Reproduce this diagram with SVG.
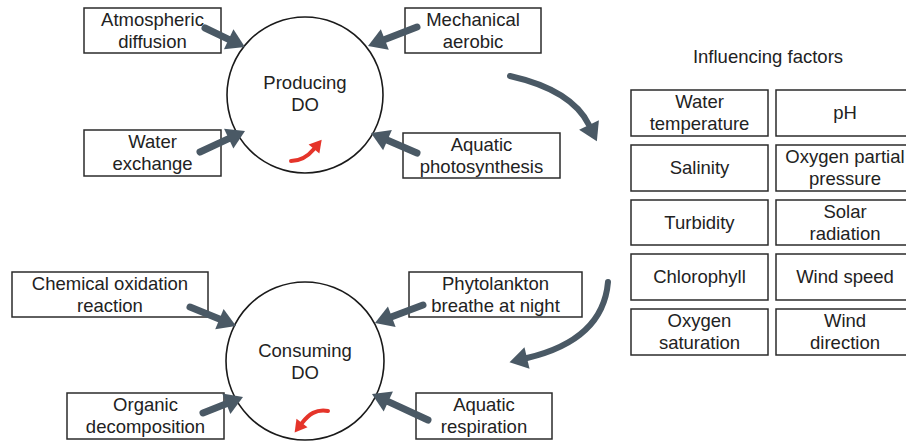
<svg xmlns="http://www.w3.org/2000/svg" width="906" height="442" viewBox="0 0 906 442">
<style>
.box{fill:#fff;stroke:#2b2b2b;stroke-width:1.5}
.circ{fill:#fff;stroke:#1a1a1a;stroke-width:1.6}
text{font-family:"Liberation Sans",Arial,sans-serif;font-size:18.5px;fill:#222;text-anchor:middle}
.arr{fill:none;stroke:#4a5965;stroke-width:7;stroke-linecap:round}
.carr{fill:none;stroke:#4a5965;stroke-width:6;stroke-linecap:round}
.red{fill:none;stroke:#e5342a;stroke-width:4;stroke-linecap:round}
</style>
<defs>
<marker id="ah" markerUnits="userSpaceOnUse" markerWidth="18" markerHeight="22" refX="0" refY="11" orient="auto" overflow="visible">
<path d="M0,0 L18,11 L0,22 Z" fill="#4a5965"/>
</marker>
<marker id="rh" markerUnits="userSpaceOnUse" markerWidth="12" markerHeight="14" refX="0" refY="7" orient="auto" overflow="visible">
<path d="M0,0 L12,7 L0,14 Z" fill="#e5342a"/>
</marker>
</defs>
<rect width="906" height="442" fill="#fff"/>

<g id="producing">
<circle class="circ" cx="305" cy="95" r="78"/>
<text x="305" y="89">Producing</text>
<text x="305" y="111">DO</text>
</g>
<g id="consuming">
<circle class="circ" cx="305" cy="361" r="79"/>
<text x="305" y="357">Consuming</text>
<text x="305" y="379">DO</text>
</g>

<g id="atmospheric"><rect class="box" x="84" y="8" width="137" height="45"/><text x="152.5" y="25.5">Atmospheric</text><text x="152.5" y="47.5">diffusion</text></g>
<g id="water-exchange"><rect class="box" x="84" y="130" width="137" height="46"/><text x="152.5" y="148">Water</text><text x="152.5" y="170">exchange</text></g>
<g id="mechanical"><rect class="box" x="405" y="8" width="136" height="45"/><text x="473" y="25.5">Mechanical</text><text x="473" y="47.5">aerobic</text></g>
<g id="photosynthesis"><rect class="box" x="403" y="133" width="157" height="45"/><text x="481.5" y="150.5">Aquatic</text><text x="481.5" y="172.5">photosynthesis</text></g>
<g id="chemical"><rect class="box" x="12" y="272" width="196" height="45"/><text x="110" y="289.5">Chemical oxidation</text><text x="110" y="311.5">reaction</text></g>
<g id="organic"><rect class="box" x="67" y="393" width="157" height="46"/><text x="145.5" y="411">Organic</text><text x="145.5" y="433">decomposition</text></g>
<g id="phytolankton"><rect class="box" x="409" y="272" width="173" height="45"/><text x="495.5" y="289.5">Phytolankton</text><text x="495.5" y="311.5">breathe at night</text></g>
<g id="respiration"><rect class="box" x="416" y="393" width="136" height="46"/><text x="484" y="411">Aquatic</text><text x="484" y="433">respiration</text></g>

<g id="factors">
<text x="768" y="63">Influencing factors</text>
<g id="f-water-temp"><rect class="box" x="631" y="90" width="137" height="46"/><text x="699.5" y="108">Water</text><text x="699.5" y="130">temperature</text></g>
<g id="f-ph"><rect class="box" x="776" y="90" width="138" height="46"/><text x="845" y="119">pH</text></g>
<g id="f-salinity"><rect class="box" x="631" y="145" width="137" height="46"/><text x="699.5" y="174">Salinity</text></g>
<g id="f-oxygen-partial"><rect class="box" x="776" y="145" width="138" height="46"/><text x="845" y="163">Oxygen partial</text><text x="845" y="185">pressure</text></g>
<g id="f-turbidity"><rect class="box" x="631" y="200" width="137" height="45"/><text x="699.5" y="228.5">Turbidity</text></g>
<g id="f-solar"><rect class="box" x="776" y="200" width="138" height="45"/><text x="845" y="217.5">Solar</text><text x="845" y="239.5">radiation</text></g>
<g id="f-chlorophyll"><rect class="box" x="631" y="254" width="137" height="46"/><text x="699.5" y="283">Chlorophyll</text></g>
<g id="f-wind-speed"><rect class="box" x="776" y="254" width="138" height="46"/><text x="845" y="283">Wind speed</text></g>
<g id="f-oxygen-sat"><rect class="box" x="631" y="309" width="137" height="46"/><text x="699.5" y="327">Oxygen</text><text x="699.5" y="349">saturation</text></g>
<g id="f-wind-dir"><rect class="box" x="776" y="309" width="138" height="46"/><text x="845" y="327">Wind</text><text x="845" y="349">direction</text></g>
</g>

<g id="connectors">
<path class="arr" d="M205,28 L228.7,39.3" marker-end="url(#ah)"/>
<path class="arr" d="M200,152 L228.7,138.6" marker-end="url(#ah)"/>
<path class="arr" d="M417,27 L384.8,39.5" marker-end="url(#ah)"/>
<path class="arr" d="M417,153 L387.5,140.2" marker-end="url(#ah)"/>
<path class="arr" d="M190,307 L219.4,319.1" marker-end="url(#ah)"/>
<path class="arr" d="M203,413 L226.3,403.7" marker-end="url(#ah)"/>
<path class="arr" d="M423,305 L391.8,316.7" marker-end="url(#ah)"/>
<path class="arr" d="M428,420 L388.3,401.6" marker-end="url(#ah)"/>
<path class="carr" d="M510,76 Q572,90 589,125" marker-end="url(#ah)"/>
<path class="carr" d="M608,282 Q603,340 527,358" marker-end="url(#ah)"/>
<path class="red" d="M291,161 C302,161 309,155 314,149" marker-end="url(#rh)"/>
<path class="red" d="M328,411 C316,409 309,414 302,423" marker-end="url(#rh)"/>
</g>
</svg>
